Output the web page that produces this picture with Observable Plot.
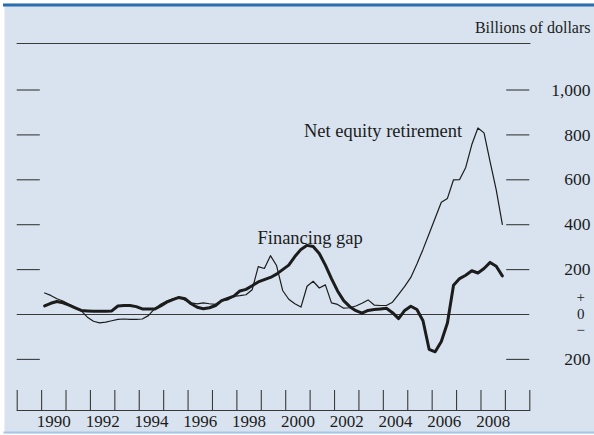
<!DOCTYPE html>
<html>
<head>
<meta charset="utf-8">
<script src="https://cdn.jsdelivr.net/npm/d3@7"></script>
<script src="https://cdn.jsdelivr.net/npm/@observablehq/plot@0.6"></script>
<style>
  html, body { margin: 0; padding: 0; background: #ffffff; }
</style>
</head>
<body>
<div id="chart"></div>
<script>
// Quarterly data, 1990:Q1 – 2008:Q4 (billions of dollars, annual rate)
const startYear = 1990;
const netEquityRetirement = [
  96, 85, 70, 60, 45, 32, 16, -12, -30, -37,
  -34, -28, -22, -20, -22, -22, -20, -5, 25, 46,
  60, 70, 77, 64, 52, 47, 52, 48, 45, 60,
  65, 81, 84, 88, 110, 213, 205, 262, 218, 107,
  68, 48, 33, 126, 148, 118, 132, 52, 45, 28,
  30, 38, 50, 65, 42, 40, 40, 55, 90, 125,
  165, 225, 290, 360, 430, 500, 517, 600, 601, 655,
  757, 831, 809, 680, 555, 401
];
const financingGap = [
  38, 50, 58, 52, 42, 30, 18, 16, 14, 15,
  15, 16, 38, 40, 40, 35, 25, 25, 24, 38,
  55, 66, 76, 70, 48, 32, 26, 30, 40, 62,
  72, 82, 105, 112, 128, 145, 155, 165, 180, 200,
  220, 258, 290, 308, 303, 272, 220, 160, 105, 62,
  35, 17, 6, 18, 22, 25, 28, 8, -18, 18,
  37, 22, -28, -155, -166, -120, -38, 130, 160, 175,
  195, 185, 205, 232, 215, 172
];
const yTicks = [-200, 200, 400, 600, 800, 1000];
const yearTicks = [1989, 1990, 1991, 1992, 1993, 1994, 1995, 1996, 1997, 1998, 1999,
                   2000, 2001, 2002, 2003, 2004, 2005, 2006, 2007, 2008, 2009, 2010];
const yearLabels = [1990, 1992, 1994, 1996, 1998, 2000, 2002, 2004, 2006, 2008];
const seriesLabels = [
  {name: "Net equity retirement", year: 2003.99, value: 815},
  {name: "Financing gap", year: 2001.0, value: 342}
];

const toRows = (arr) => arr.map((v, i) => ({t: startYear + (i + 0.5) / 4, v}));
const nerRows = toRows(netEquityRetirement);
const fgRows = toRows(financingGap);
const fmt = d3.format(",");
const ink = "#1c1c1c";
const axisInk = "#3a3a3a";
const font = "Liberation Serif, Times New Roman, serif";
const panelFill = "#d8e3ef";

const chart = Plot.plot({
  width: 594,
  height: 435,
  marginLeft: 16.7,
  marginRight: 64.7,
  marginTop: 43,
  marginBottom: 25,
  style: {background: "#ffffff", fontFamily: font, fontSize: "17px", color: ink},
  x: {domain: [1989, 2010], range: [16.7, 529.3], axis: null},
  y: {domain: [-200, 1000], range: [358.9, 89.5], axis: null},
  marks: [
    // panel background and its coloured top / bottom rules
    Plot.frame({fill: panelFill, fillOpacity: 1, stroke: "none", insetLeft: -12.7, insetTop: -40, insetRight: -64.7, insetBottom: -23}),
    Plot.frame({anchor: "top", stroke: "#2a6db0", strokeWidth: 3, insetTop: -38.5, insetLeft: -12.7, insetRight: -64.7}),
    Plot.frame({anchor: "bottom", stroke: "#a7c5e6", strokeWidth: 2, insetBottom: -22, insetLeft: -12.7, insetRight: -64.7}),
    Plot.frame({anchor: "top", stroke: axisInk, strokeWidth: 1.2}),
    Plot.frame({anchor: "bottom", stroke: axisInk, strokeWidth: 1.2}),
    Plot.ruleX(yearTicks, {x: d => d, insetTop: 347, stroke: axisInk, strokeWidth: 1.1}),
    Plot.text(yearLabels, {x: d => d + 0.5, text: d => String(d), frameAnchor: "bottom", lineAnchor: "middle", dy: 11, fontSize: 17, fill: ink}),
    Plot.ruleY([0], {stroke: axisInk, strokeWidth: 1.1}),
    Plot.ruleY(yTicks, {y: d => d, insetRight: 489.5, stroke: axisInk, strokeWidth: 1.1}),
    Plot.ruleY(yTicks, {y: d => d, insetLeft: 489.5, stroke: axisInk, strokeWidth: 1.1}),
    Plot.text(yTicks, {y: d => d, text: d => fmt(Math.abs(d)), frameAnchor: "right", dx: 60.7, textAnchor: "end", fontSize: 17.5, fill: ink}),
    Plot.text([0], {y: d => d, text: ["0"], frameAnchor: "right", dx: 51, textAnchor: "middle", fontSize: 15, fill: ink}),
    Plot.text([0], {y: d => d, text: ["+"], frameAnchor: "right", dx: 51, dy: -17, textAnchor: "middle", fontSize: 15, fill: ink}),
    Plot.text([0], {y: d => d, text: ["\u2212"], frameAnchor: "right", dx: 51, dy: 16, textAnchor: "middle", fontSize: 15, fill: ink}),
    Plot.text(["Billions of dollars"], {text: d => d, frameAnchor: "top-right", lineAnchor: "middle", dx: 60.7, dy: -16, textAnchor: "end", fontSize: 16, fill: ink}),
    Plot.line(nerRows, {x: "t", y: "v", stroke: ink, strokeWidth: 1.2}),
    Plot.line(fgRows, {x: "t", y: "v", stroke: ink, strokeWidth: 3}),
    Plot.text(seriesLabels, {x: "year", y: "value", text: "name", textAnchor: "middle", fontSize: 18.5, fill: ink})
  ]
});
document.getElementById("chart").appendChild(chart);
</script>
</body>
</html>
